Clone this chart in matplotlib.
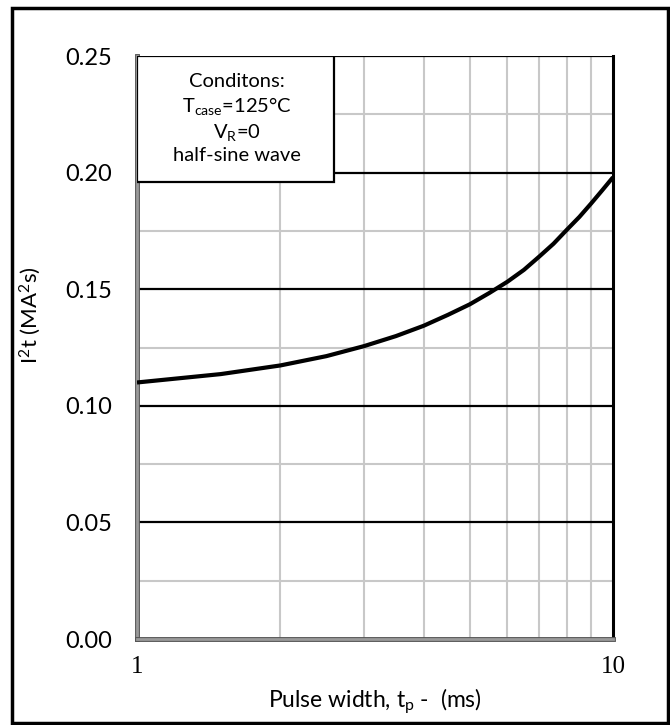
import matplotlib
matplotlib.use("Agg")
import matplotlib.pyplot as plt
import matplotlib.patheffects as pe
from matplotlib.patches import Rectangle
from matplotlib.ticker import FixedLocator, NullFormatter

plt.rcParams['font.family'] = ['Lato', 'DejaVu Sans']
plt.rcParams['mathtext.fontset'] = 'custom'
plt.rcParams['mathtext.rm'] = 'Lato'
plt.rcParams['mathtext.it'] = 'Lato:italic'

# curve
pulse_ms = [1, 1.5, 2, 2.5, 3, 3.5, 4, 4.5, 5, 5.5, 6, 6.5, 7, 7.5,
            8, 8.5, 9, 9.5, 10]
i2t = [0.110, 0.1136, 0.1173, 0.1213, 0.1256, 0.1299, 0.1343, 0.1390,
       0.1435, 0.1484, 0.1532, 0.1583, 0.1640, 0.1695, 0.1755, 0.1810,
       0.1868, 0.1925, 0.198]

y_major = [0.00, 0.05, 0.10, 0.15, 0.20, 0.25]
y_minor = [0.025, 0.075, 0.125, 0.175, 0.225]
x_minor = [2, 3, 4, 5, 6, 7, 8, 9]
conditions = 'Conditons:\nT$_\\mathrm{case}$=125°C\nV$_\\mathrm{R}$=0\nhalf-sine wave'

fig = plt.figure(figsize=(6.7, 7.25), dpi=100)
ax = fig.add_axes([137 / 670, 1 - 639 / 725, 476 / 670, 583 / 725])

ax.set_xscale('log')
ax.set_xlim(1, 10)
ax.set_ylim(0, 0.25)

# grid
for v in y_minor:
    ax.axhline(v, color='#c8c8c8', lw=1.5, zorder=1)
for v in x_minor:
    ax.axvline(v, color='#c8c8c8', lw=1.5, zorder=1)
for v in y_major[1:]:
    ax.axhline(v, color='black', lw=1.6, zorder=2)

ax.plot(pulse_ms, i2t, color='black', lw=3, zorder=4, solid_capstyle='butt')

# spines
ax.spines['top'].set_visible(False)
ax.spines['right'].set_color('black')
ax.spines['right'].set_linewidth(2.2)
for s in ['left', 'bottom']:
    ax.spines[s].set_color('#9a9a9a')
    ax.spines[s].set_linewidth(2)
    ax.spines[s].set_path_effects([pe.Stroke(linewidth=3.5, foreground='#555555'), pe.Normal()])

ax.set_yticks(y_major)
ax.set_yticklabels(['%.2f' % v for v in y_major], fontsize=17)
ax.xaxis.set_major_locator(FixedLocator([1, 10]))
ax.xaxis.set_minor_locator(FixedLocator(x_minor))
ax.xaxis.set_minor_formatter(NullFormatter())
ax.set_xticklabels(['1', '10'], family='Liberation Serif', fontsize=18)
ax.tick_params(which='both', length=0)
ax.tick_params(axis='y', pad=18)
ax.tick_params(axis='x', pad=12)

ax.set_xlabel('Pulse width, t$_\\mathrm{p}$ -  (ms)', fontsize=16.5, labelpad=6)
ax.set_ylabel('I$^2$t (MA$^2$s)', fontsize=16)
ax.yaxis.set_label_coords(-0.197, 0.556)

# conditions box
ax.text(0.209, 0.893, conditions, transform=ax.transAxes, ha='center', va='center',
        fontsize=14.5, linespacing=1.3, zorder=6)
ax.add_patch(Rectangle((0, 0.784), 0.414, 0.216, transform=ax.transAxes,
                       facecolor='white', edgecolor='black', lw=1.6, zorder=5))

# outer frame
fig.patches.append(Rectangle((12 / 670, 2 / 725), 656 / 670, 715 / 725,
                             transform=fig.transFigure, fill=False,
                             edgecolor='black', lw=2.5))

fig.savefig('out.png', dpi=100)
